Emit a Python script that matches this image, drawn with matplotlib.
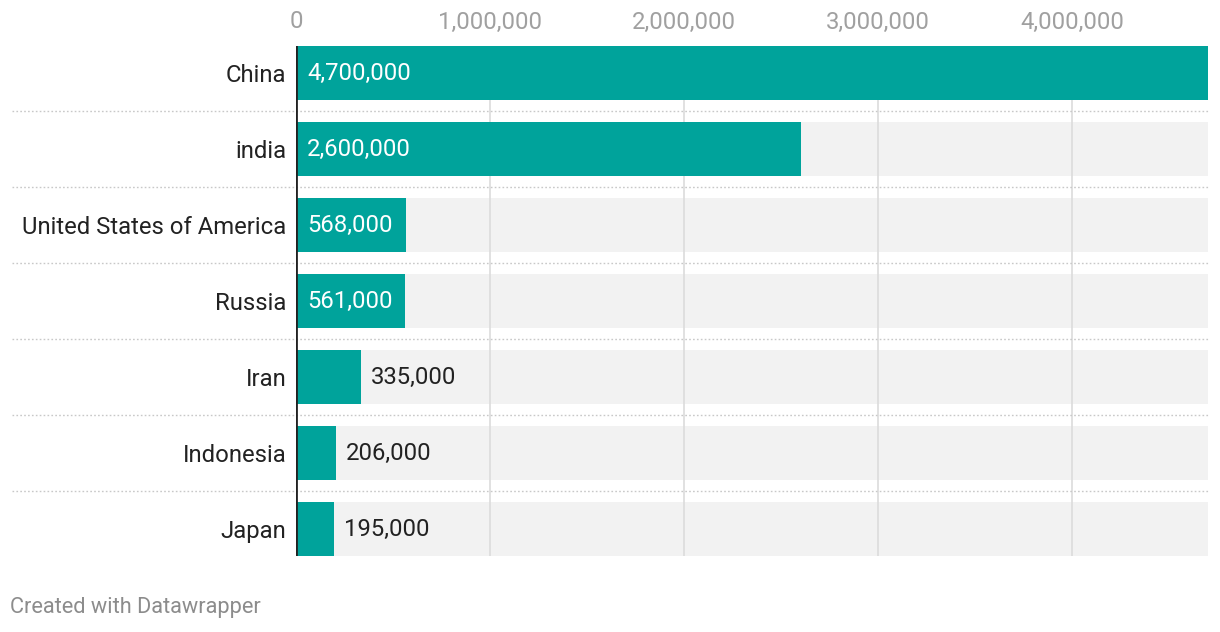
import matplotlib.pyplot as plt
from matplotlib.transforms import blended_transform_factory

countries = ['China', 'india', 'United States of America', 'Russia', 'Iran', 'Indonesia', 'Japan']
values = [4700000, 2600000, 568000, 561000, 335000, 206000, 195000]
ticks = [0, 1000000, 2000000, 3000000, 4000000]
x_max = 4700000

plt.rcParams['font.family'] = ['Roboto', 'DejaVu Sans']

W, H = 1220, 632
fig = plt.figure(figsize=(W / 100, H / 100), dpi=100)
left, right, top, bottom = 296, 1208, 46, 556
ax = fig.add_axes([left / W, 1 - bottom / H, (right - left) / W, (bottom - top) / H])

teal = '#00a39b'
fs = 17.2
n = len(countries)
pos = list(range(n))
bar_h = 54 / 76

# grey background rows, gridlines, then the bars
ax.barh(pos, [x_max] * n, height=bar_h, color='#f2f2f2', zorder=1)
for t in ticks[1:]:
    ax.axvline(t, color='#dcdcdc', lw=1.2, zorder=2)
ax.barh(pos, values, height=bar_h, color=teal, zorder=3)

ax.set_xlim(0, x_max)
ax.set_ylim(n - 1 + bar_h / 2, -bar_h / 2)

# value labels: inside in white for wide bars, outside in black otherwise
px = x_max / (right - left)
for i, v in enumerate(values):
    txt = f'{v:,}'
    if v > 500000:
        ax.text(11 * px, i, txt, color='white', va='center', ha='left', fontsize=fs, zorder=4)
    else:
        ax.text(v + 10 * px, i, txt, color='#222222', va='center', ha='left', fontsize=fs, zorder=4)

# dotted row separators, reaching out under the country labels
trans = blended_transform_factory(ax.transAxes, ax.transData)
x0 = (12 - left) / (right - left)
for i in range(n - 1):
    ax.plot([x0, 1], [i + 0.5, i + 0.5], transform=trans, color='#c8c8c8',
            lw=1, ls=(0, (1.2, 1.6)), clip_on=False, zorder=2)

ax.axvline(0, color='#222222', lw=2, zorder=5)

ax.set_yticks(pos)
ax.set_yticklabels(countries, fontsize=fs, color='#222222')
ax.xaxis.tick_top()
ax.set_xticks(ticks)
ax.set_xticklabels([f'{t:,}' for t in ticks], fontsize=fs, color='#a0a0a0')
ax.tick_params(axis='x', length=0, pad=9)
ax.tick_params(axis='y', length=0, pad=7)
for s in ax.spines.values():
    s.set_visible(False)

fig.text(10 / W, 1 - 608 / H, 'Created with Datawrapper', fontsize=15.7,
         color='#8c8c8c', va='center', ha='left')

fig.savefig('out.png', dpi=100, facecolor='white')
